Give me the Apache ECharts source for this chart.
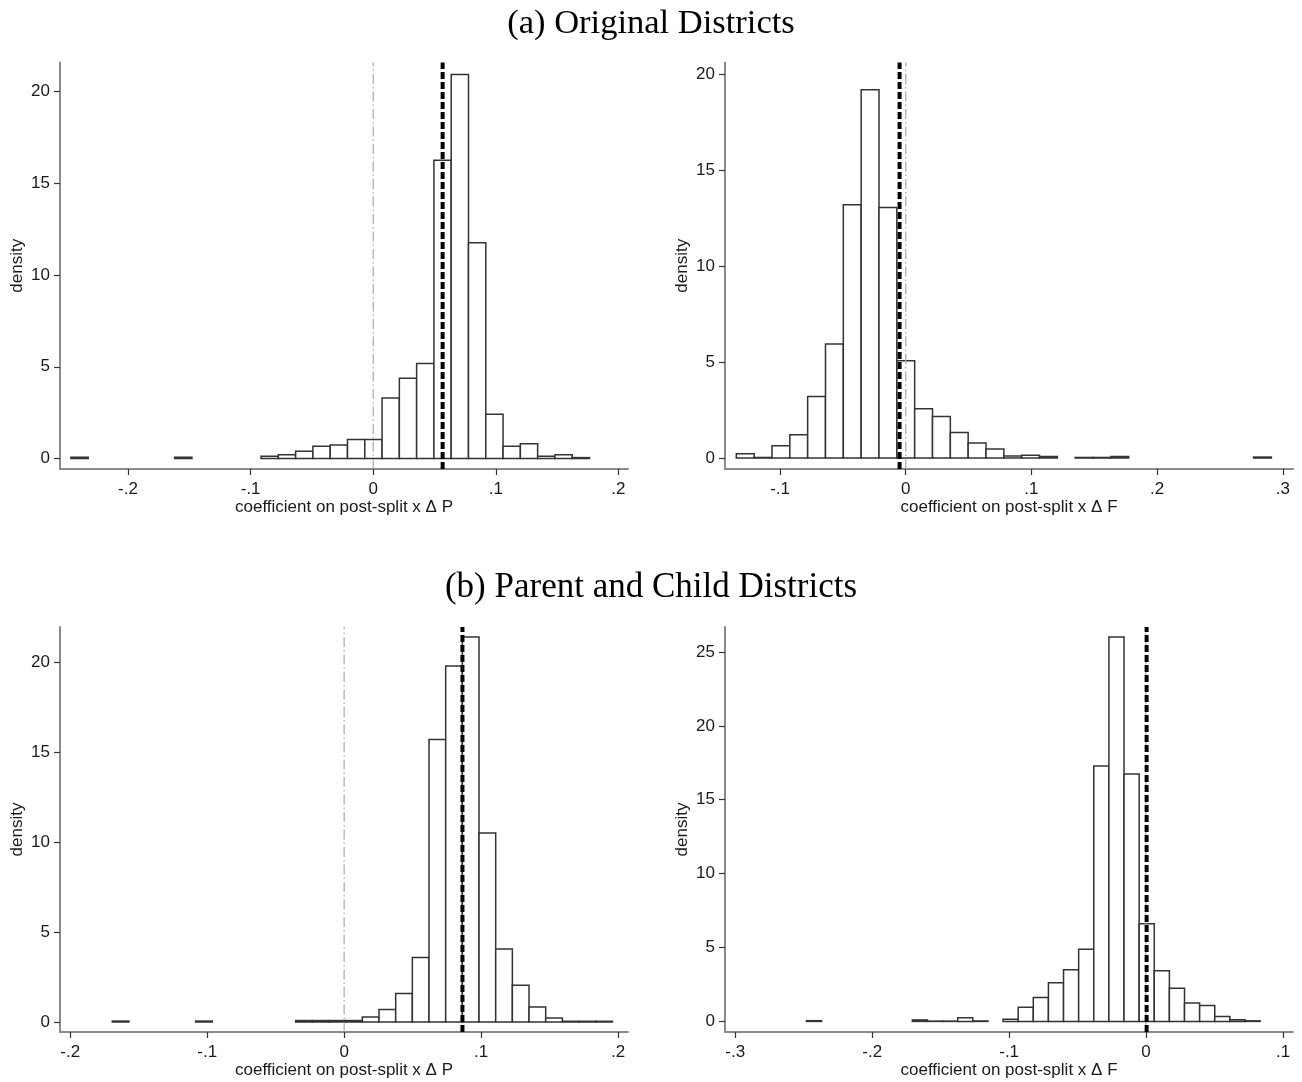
<!DOCTYPE html>
<html>
<head>
<meta charset="utf-8">
<script src="https://cdn.jsdelivr.net/npm/echarts@6/dist/echarts.min.js"></script>
<style>
html,body{margin:0;padding:0;background:#fff;}
#chart{width:1302px;height:1082px;}
</style>
</head>
<body>
<div id="chart"></div>
<script>
// ---------- titles ----------
const titleA = "(a) Original Districts";
const titleB = "(b) Parent and Child Districts";
const xNameP = "coefficient on post-split x \u0394 P";
const xNameF = "coefficient on post-split x \u0394 F";
const yName = "density";

// ---------- panel 1: original districts, Δ P ----------
const p1BinStart = -0.2466;
const p1BinWidth = 0.0141;
const p1Density = [0.07,0,0,0,0,0,0.07,0,0,0,0,0.12,0.2,0.4,0.67,0.74,1.03,1.03,3.3,4.38,5.18,16.25,20.92,11.76,2.41,0.67,0.8,0.12,0.2,0.05];
const p1Estimate = 0.0566;
const p1XTicks = [-0.2,-0.1,0,0.1,0.2];
const p1YTicks = [0,5,10,15,20];
const p1XRange = [-0.2555,0.2078];
const p1YRange = [-0.571,21.58];

// ---------- panel 2: original districts, Δ F ----------
const p2BinStart = -0.1348;
const p2BinWidth = 0.01419;
const p2Density = [0.22,0.03,0.64,1.21,3.2,5.94,13.18,19.17,13.04,5.07,2.56,2.16,1.33,0.78,0.47,0.1,0.15,0.08,0,0.03,0.03,0.08,0,0,0,0,0,0,0,0.05];
const p2Estimate = -0.0049;
const p2XTicks = [-0.1,0,0.1,0.2,0.3];
const p2YTicks = [0,5,10,15,20];
const p2XRange = [-0.1438,0.3081];
const p2YRange = [-0.571,20.59];

// ---------- panel 3: parent and child districts, Δ P ----------
const p3BinStart = -0.1693;
const p3BinWidth = 0.012173;
const p3Density = [0.05,0,0,0,0,0.05,0,0,0,0,0,0.08,0.08,0.08,0.08,0.28,0.69,1.58,3.58,15.7,19.78,21.39,10.5,4.06,2.04,0.83,0.22,0.04,0.04,0.04];
const p3Estimate = 0.0864;
const p3XTicks = [-0.2,-0.1,0,0.1,0.2];
const p3YTicks = [0,5,10,15,20];
const p3XRange = [-0.2075,0.2073];
const p3YRange = [-0.556,21.95];

// ---------- panel 4: parent and child districts, Δ F ----------
const p4BinStart = -0.248;
const p4BinWidth = 0.011043;
const p4Density = [0.05,0,0,0,0,0,0,0.1,0.02,0.02,0.25,0.03,0,0.15,0.95,1.62,2.61,3.49,4.89,17.28,26.01,16.74,6.6,3.43,2.25,1.24,1.08,0.34,0.12,0.04];
const p4Estimate = 0.0004;
const p4XTicks = [-0.3,-0.2,-0.1,0,0.1];
const p4YTicks = [0,5,10,15,20,25];
const p4XRange = [-0.3075,0.1073];
const p4YRange = [-0.717,26.69];

const zeroLine = 0;

// ---------- build ----------
const panels = [
  {start:p1BinStart,width:p1BinWidth,dens:p1Density,est:p1Estimate,xt:p1XTicks,yt:p1YTicks,xr:p1XRange,yr:p1YRange,xName:xNameP,
   grid:{left:60,top:62.5,width:568,height:406.5}},
  {start:p2BinStart,width:p2BinWidth,dens:p2Density,est:p2Estimate,xt:p2XTicks,yt:p2YTicks,xr:p2XRange,yr:p2YRange,xName:xNameF,
   grid:{left:725,top:62.5,width:568,height:406.5}},
  {start:p3BinStart,width:p3BinWidth,dens:p3Density,est:p3Estimate,xt:p3XTicks,yt:p3YTicks,xr:p3XRange,yr:p3YRange,xName:xNameP,
   grid:{left:60,top:627,width:568,height:405}},
  {start:p4BinStart,width:p4BinWidth,dens:p4Density,est:p4Estimate,xt:p4XTicks,yt:p4YTicks,xr:p4XRange,yr:p4YRange,xName:xNameF,
   grid:{left:725,top:627,width:568,height:405}}
];

function fmtTick(v){
  if (Math.abs(v) < 1e-9) return '0';
  const s = String(Math.abs(+v.toFixed(4))).replace(/^0/, '');
  return (v < 0 ? '-' : '') + s;
}

const labelFont = 'Liberation Sans, Arial, sans-serif';
const grids = [], xAxes = [], yAxes = [], series = [];

panels.forEach((p, k) => {
  grids.push(Object.assign({containLabel:false}, p.grid));
  xAxes.push({
    type:'value', gridIndex:k, min:p.xr[0], max:p.xr[1],
    name:p.xName, nameLocation:'middle', nameGap:30,
    nameTextStyle:{fontFamily:labelFont,fontSize:17,color:'#1a1a1a'},
    axisLine:{show:true,onZero:false,lineStyle:{color:'#8a8a8a',width:2}},
    axisTick:{show:true,inside:false,length:6,customValues:p.xt,lineStyle:{color:'#333',width:1.2}},
    axisLabel:{show:true,customValues:p.xt,formatter:fmtTick,margin:12,fontFamily:labelFont,fontSize:17,color:'#1a1a1a'},
    splitLine:{show:false}
  });
  yAxes.push({
    type:'value', gridIndex:k, min:p.yr[0], max:p.yr[1],
    name:yName, nameLocation:'middle', nameGap:34, nameRotate:90,
    nameTextStyle:{fontFamily:labelFont,fontSize:17,color:'#1a1a1a'},
    axisLine:{show:true,onZero:false,lineStyle:{color:'#8a8a8a',width:2}},
    axisTick:{show:true,inside:false,length:6,customValues:p.yt,lineStyle:{color:'#333',width:1.2}},
    axisLabel:{show:true,customValues:p.yt,formatter:fmtTick,margin:10,fontFamily:labelFont,fontSize:17,color:'#1a1a1a'},
    splitLine:{show:false}
  });
  const data = p.dens.map((h, i) => [p.start + i*p.width, p.start + (i+1)*p.width, h]);
  series.push({
    type:'custom', xAxisIndex:k, yAxisIndex:k, clip:false, silent:true,
    encode:{x:[0,1], y:2},
    data:data,
    renderItem:function(params, api){
      const h = api.value(2);
      if (!(h > 0)) return null;
      const a = api.coord([api.value(0), h]);
      const b = api.coord([api.value(1), 0]);
      return {type:'rect',
        shape:{x:a[0], y:a[1], width:b[0]-a[0], height:b[1]-a[1]},
        style:{fill:'#ffffff', stroke:'#333333', lineWidth:1.5}};
    }
  });
  // reference line at zero (light gray dash-dot)
  series.push({
    type:'line', xAxisIndex:k, yAxisIndex:k, silent:true, symbol:'none',
    data:[[zeroLine, p.yr[0]],[zeroLine, p.yr[1]]],
    lineStyle:{color:'#a8a8a8', width:1.2, type:[10,3,1.5,3]},
    z:3
  });
  // estimate (black thick dashed)
  series.push({
    type:'line', xAxisIndex:k, yAxisIndex:k, silent:true, symbol:'none',
    data:[[p.est, p.yr[0]],[p.est, p.yr[1]]],
    lineStyle:{color:'#000000', width:4, type:[7,3]},
    z:4
  });
});

const chart = echarts.init(document.getElementById('chart'), null, {renderer:'canvas'});
chart.setOption({
  backgroundColor:'#ffffff',
  animation:false,
  title:[
    {text:titleA, left:'center', top:1, textStyle:{fontFamily:'Liberation Serif, serif', fontWeight:'normal', fontSize:34.5, color:'#000'}},
    {text:titleB, left:'center', top:565, textStyle:{fontFamily:'Liberation Serif, serif', fontWeight:'normal', fontSize:35, color:'#000'}}
  ],
  grid:grids, xAxis:xAxes, yAxis:yAxes, series:series
});
</script>
</body>
</html>
